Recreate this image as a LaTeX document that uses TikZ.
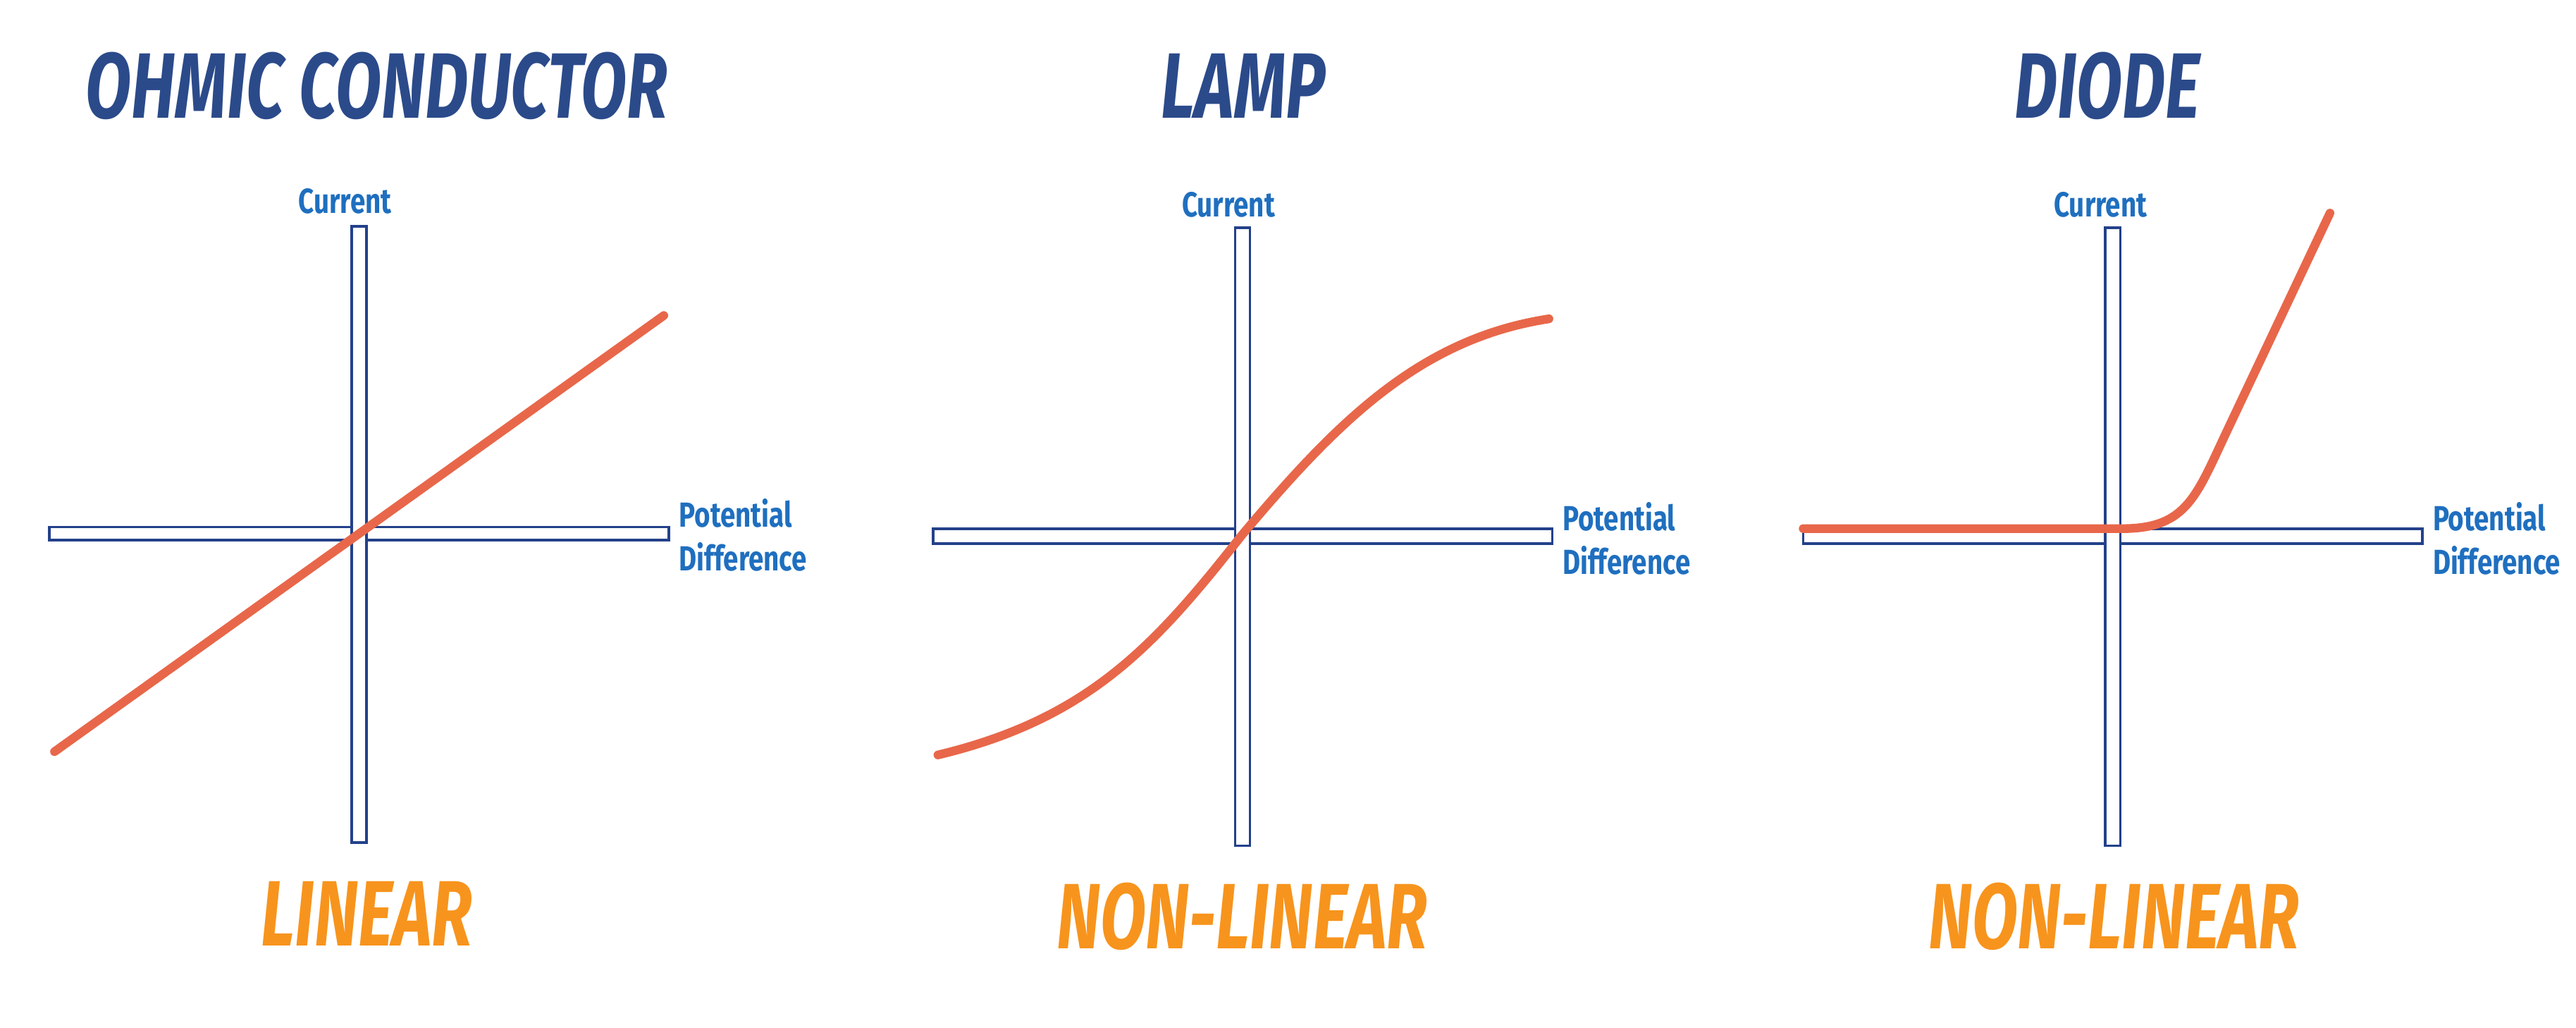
\documentclass[tikz,border=0pt]{standalone}
\usepackage{fontspec}
\setmainfont{Fira Sans}
\usepackage{graphicx}
\definecolor{axisblue}{HTML}{23418A}
\definecolor{titleblue}{HTML}{2B4A8A}
\definecolor{lblblue}{HTML}{1F6FBF}
\definecolor{curve}{HTML}{E8674A}
\definecolor{verdict}{HTML}{F7941D}
\begin{document}
\begin{tikzpicture}[x=0.02cm,y=-0.02cm,
  bar/.style={draw=axisblue,fill=white,line width=0.9pt},
  crv/.style={draw=curve,line width=3pt,line cap=round},
  ttl/.style={text=titleblue,font=\fontsize{32}{36}\selectfont\bfseries\itshape},
  vrd/.style={text=verdict,font=\fontsize{32}{36}\selectfont\bfseries\itshape},
  lbl/.style={text=lblblue,font=\fontsize{12}{14}\selectfont\bfseries,inner sep=0pt},
  pd/.style={lbl,anchor=west,align=left}]
\useasboundingbox (0,0) rectangle (1560,622);
% graph 1
\draw[bar] (30,319) rectangle (405,327);
\draw[bar] (213,137) rectangle (222,510);
\coordinate (a1) at (33,455); \coordinate (a2) at (402,191);
\draw[crv] (a1) -- (a2);
\node[ttl] (t1) at (228,52) {\scalebox{0.72}[1]{OHMIC CONDUCTOR}};
\node[lbl] (c1) at (209,122) {\scalebox{0.78}[1]{Current}};
\node[pd] (p1) at (411,324) {\scalebox{0.78}[1]{Potential}\\[1pt]\scalebox{0.78}[1]{Difference}};
\node[vrd] (v1) at (222,553) {\scalebox{0.72}[1]{LINEAR}};
% graph 2
\draw[bar] (565,320) rectangle (940,329);
\draw[bar] (748,138) rectangle (757,512);
\coordinate (b1) at (568,457); \coordinate (b2) at (752,324); \coordinate (b3) at (938,193);
\draw[crv] (b1) .. controls (660,435) and (700,390) .. (b2) .. controls (810,255) and (860,205) .. (b3);
\node[ttl] (t2) at (753,52) {\scalebox{0.72}[1]{LAMP}};
\node[lbl] (c2) at (744,124) {\scalebox{0.78}[1]{Current}};
\node[pd] (p2) at (946,326) {\scalebox{0.78}[1]{Potential}\\[1pt]\scalebox{0.78}[1]{Difference}};
\node[vrd] (v2) at (752,555) {\scalebox{0.72}[1]{NON-LINEAR}};
% graph 3
\draw[bar] (1092,320) rectangle (1467,329);
\draw[bar] (1275,138) rectangle (1284,512);
\coordinate (d1) at (1092,320); \coordinate (d2) at (1285,320); \coordinate (d3) at (1411,129);
\draw[crv] (d1) -- (d2) .. controls (1325,320) and (1330,300) .. (1350,258) -- (d3);
\node[ttl] (t3) at (1276,52) {\scalebox{0.72}[1]{DIODE}};
\node[lbl] (c3) at (1272,124) {\scalebox{0.78}[1]{Current}};
\node[pd] (p3) at (1473,326) {\scalebox{0.78}[1]{Potential}\\[1pt]\scalebox{0.78}[1]{Difference}};
\node[vrd] (v3) at (1280,555) {\scalebox{0.72}[1]{NON-LINEAR}};
\end{tikzpicture}
\end{document}
